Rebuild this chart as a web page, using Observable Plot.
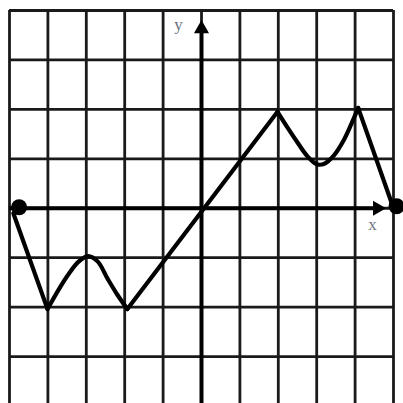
<!DOCTYPE html>
<html>
<head>
<meta charset="utf-8">
<script src="https://cdn.jsdelivr.net/npm/d3@7"></script>
<script src="https://cdn.jsdelivr.net/npm/@observablehq/plot@0.6"></script>
<style>
  html, body { margin: 0; padding: 0; background: #fff; }
  #chart svg { display: block; }
</style>
</head>
<body>
<div id="chart"></div>
<script>
// grid ticks
const xTicks = [-5, -4, -3, -2, -1, 0, 1, 2, 3, 4, 5];
const yTicks = [-4, -3, -2, -1, 0, 1, 2, 3, 4];

// straight pieces of the graph (segment id, x, y)
const straightSeg = [1, 1, 2, 2, 3, 3];
const straightX = [-4.9, -4.01, -1.93, 1.98, 4.08, 5.0];
const straightY = [-0.1, -2.04, -2.04, 1.95, 2.03, 0];

// curved pieces of the graph
const bumpX = [-4.01, -3.7, -3.45, -3.2, -2.95, -2.7, -2.45, -2.2, -1.93];
const bumpY = [-2.04, -1.62, -1.32, -1.08, -0.97, -1.08, -1.42, -1.74, -2.04];
const valleyX = [1.98, 2.25, 2.5, 2.75, 3.0, 3.2, 3.45, 3.7, 3.9, 4.08];
const valleyY = [1.95, 1.62, 1.33, 1.06, 0.89, 0.9, 1.07, 1.37, 1.7, 2.03];

// endpoint dots
const endX = [-4.75, 5.08];
const endY = [0.02, 0.04];

// axis labels
const labelText = ["y", "x"];
const labelX = [-0.6, 4.45];
const labelY = [3.72, -0.34];

const straight = straightX.map((x, i) => ({x, y: straightY[i], seg: straightSeg[i]}));
const bump = bumpX.map((x, i) => ({x, y: bumpY[i]}));
const valley = valleyX.map((x, i) => ({x, y: valleyY[i]}));
const ends = endX.map((x, i) => ({x, y: endY[i]}));
const labels = labelText.map((t, i) => ({t, x: labelX[i], y: labelY[i]}));

const chart = Plot.plot({
  width: 403,
  height: 403,
  marginLeft: 9,
  marginRight: 10,
  marginTop: 10,
  marginBottom: 0,
  x: {domain: [-5, 5], axis: null},
  y: {domain: [-3.95, 4], axis: null},
  style: {background: "#fff", overflow: "visible"},
  marks: [
    Plot.ruleX(xTicks, {x: d => d, y1: -4.2, y2: 4, stroke: "#1a1a1a", strokeWidth: 2.8}),
    Plot.ruleY(yTicks, {y: d => d, x1: -5, x2: 5, stroke: "#1a1a1a", strokeWidth: 2.8}),
    // axes
    Plot.ruleX([0], {x: d => d, y1: -4.2, y2: 3.62, stroke: "#000", strokeWidth: 4}),
    Plot.ruleY([0], {y: d => d, x1: -5, x2: 4.6, stroke: "#000", strokeWidth: 4}),
    Plot.dot([{x: 0, y: 3.63}], {x: "x", y: "y", symbol: "triangle", r: 5.6, fill: "#000", stroke: "none"}),
    Plot.dot([{x: 4.58, y: 0}], {x: "x", y: "y", symbol: "triangle", r: 5.6, rotate: 90, fill: "#000", stroke: "none"}),
    // graph
    Plot.line(straight, {x: "x", y: "y", z: "seg", stroke: "#000", strokeWidth: 4.2, strokeLinejoin: "miter"}),
    Plot.line(bump, {x: "x", y: "y", curve: "catmull-rom", stroke: "#000", strokeWidth: 4.2}),
    Plot.line(valley, {x: "x", y: "y", curve: "catmull-rom", stroke: "#000", strokeWidth: 4.2}),
    Plot.dot(ends, {x: "x", y: "y", r: 8, fill: "#000", stroke: "none"}),
    Plot.text(labels, {x: "x", y: "y", text: "t", fill: "#6f7583", fontSize: 17, fontFamily: "Liberation Serif, DejaVu Serif, serif"})
  ]
});
document.getElementById("chart").appendChild(chart);
</script>
</body>
</html>
